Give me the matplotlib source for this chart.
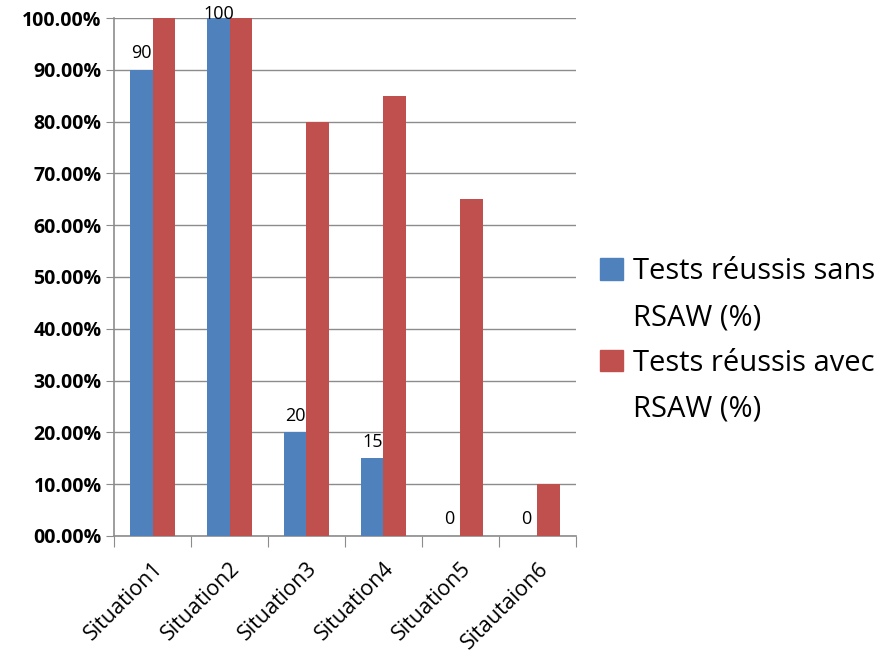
import matplotlib.pyplot as plt
from matplotlib.patches import Patch
import numpy as np

situations = ['Situation1', 'Situation2', 'Situation3', 'Situation4', 'Situation5', 'Sitautaion6']
sans_rsaw = [90, 100, 20, 15, 0, 0]
avec_rsaw = [100, 100, 80, 85, 65, 10]
y_ticks = [0, 10, 20, 30, 40, 50, 60, 70, 80, 90, 100]
y_labels = ['00.00%', '10.00%', '20.00%', '30.00%', '40.00%', '50.00%',
            '60.00%', '70.00%', '80.00%', '90.00%', '100.00%']
legend_lines = [('Tests réussis sans', 'RSAW (%)'), ('Tests réussis avec', 'RSAW (%)')]

blue = '#4F81BD'
red = '#C0504D'
grid_col = '#8C8C8C'

plt.rcParams['font.family'] = ['Open Sans', 'DejaVu Sans']

fig = plt.figure(figsize=(8.81, 6.57), dpi=100)
ax = fig.add_axes([0.1294, 0.1842, 0.5244, 0.7884])

x = np.arange(len(situations))
w = 0.29
b1 = ax.bar(x - w / 2, sans_rsaw, w, color=blue, zorder=3)
b2 = ax.bar(x + w / 2, avec_rsaw, w, color=red, zorder=3)

# value labels on the first series only, kept inside the plot at the top
for xi, v in zip(x, sans_rsaw):
    ax.text(xi - w / 2, min(v + 1.5, 99.0), f'{v}', ha='center', va='bottom',
            fontsize=13, zorder=4, clip_on=False)

ax.set_xlim(-0.5, len(situations) - 0.5)
ax.set_ylim(0, 100)
ax.set_yticks(y_ticks)
ax.set_yticklabels(y_labels, fontsize=14, fontweight='bold')
ax.yaxis.grid(True, color=grid_col, linewidth=1, zorder=0)

ax.set_xticks(np.arange(len(situations) + 1) - 0.5)
ax.set_xticklabels([])
ax.set_xticks(x, minor=True)
ax.set_xticklabels(situations, minor=True, rotation=45, ha='right',
                   rotation_mode='anchor', fontsize=15.5)
ax.tick_params(axis='x', which='minor', length=0, pad=16)
ax.tick_params(axis='x', which='major', length=8, color=grid_col, direction='out')
ax.tick_params(axis='y', length=6, color=grid_col, direction='out', pad=3)

for s in ['top', 'right']:
    ax.spines[s].set_visible(False)
for s in ['left', 'bottom']:
    ax.spines[s].set_color(grid_col)
    ax.spines[s].set_linewidth(1.2)

# wrapped legend: swatch on the first line, continuation line with an empty handle
handles, labels = [], []
for bars, (first, second) in zip([b1, b2], legend_lines):
    handles += [Patch(color=bars.patches[0].get_facecolor()),
                Patch(facecolor='none', edgecolor='none')]
    labels += [first, second]
fig.legend(handles, labels, loc='center left', bbox_to_anchor=(0.681, 0.482),
           frameon=False, fontsize=21, handlelength=0.78, handleheight=0.78,
           handletextpad=0.35, labelspacing=0.57, borderpad=0, borderaxespad=0)

fig.savefig('out.png', dpi=100)
